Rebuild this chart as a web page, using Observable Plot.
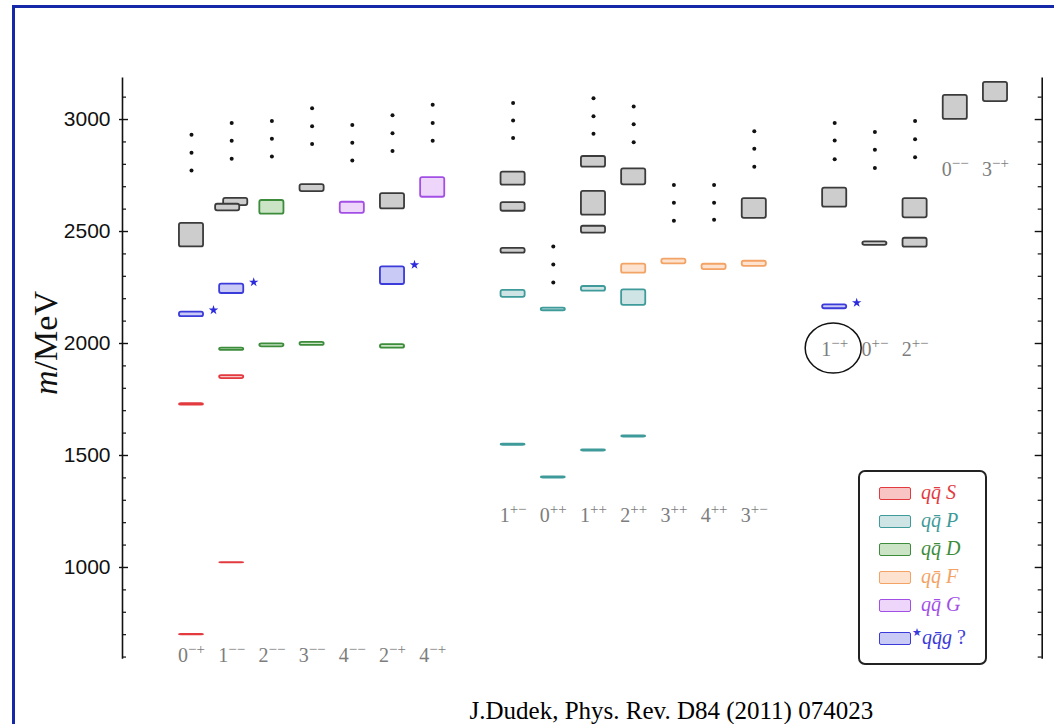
<!DOCTYPE html>
<html>
<head>
<meta charset="utf-8">
<script src="https://cdn.jsdelivr.net/npm/d3@7"></script>
<script src="https://cdn.jsdelivr.net/npm/@observablehq/plot@0.6"></script>
<style>
  html, body { margin: 0; padding: 0; background: #fff; }
  #page { position: relative; width: 1054px; height: 724px; overflow: hidden; }
  #frame { position: absolute; left: 12px; top: 5px; width: 1100px; height: 800px;
           border-left: 3.5px solid #1428a8; border-top: 3.5px solid #1428a8; pointer-events: none; }
  #chart { position: absolute; left: 0; top: 0; }
  .legend { position: absolute; left: 858px; top: 470px; width: 125px; height: 191px;
            border: 2px solid #222; border-radius: 7px; background: #fff; }
  .legend .sw { position: absolute; left: 19px; width: 30px; height: 11px; border-radius: 2px; border-width: 1.8px; border-style: solid; }
  .legend .lb { position: absolute; left: 61px; font: italic 20px "Liberation Serif", "Times New Roman", serif; line-height: 20px; white-space: nowrap; }
  .legend .lb .up { font-style: normal; }
  .legend .lb .st { font-size: 11px; position: relative; top: -8px; font-style: normal; }
</style>
</head>
<body>
<div id="page">
  <div id="chart"></div>
  <div id="legend" class="legend"></div>
  <div id="frame"></div>
</div>
<script>
// J^PC channels, in the order they are laid out along the horizontal axis
const channelsNatural = ["0-+", "1--", "2--", "3--", "4--", "2-+", "4-+"];
const channelsPositive = ["1+-", "0++", "1++", "2++", "3++", "4++", "3+-"];
const channelsExotic = ["1-+", "0+-", "2+-", "0--", "3-+"];

// States: [J^PC, mass (MeV), half-width of the uncertainty band (MeV)]
const qqS = [["0-+", 700, 0.8], ["0-+", 1728, 2.9], ["1--", 1021, 0.8], ["1--", 1850, 6.7]];
const qqP = [["1+-", 1548, 2.5], ["1+-", 2222, 15.6], ["0++", 1402, 2.5], ["0++", 2152, 5.8],
             ["1++", 1522, 2.5], ["1++", 2244, 10.5], ["2++", 1585, 2.5], ["2++", 2205, 34.4]];
const qqD = [["1--", 1974, 5.1], ["2--", 1992, 6.7], ["2--", 2608, 30.6], ["3--", 1998, 6.7], ["2-+", 1987, 7.6]];
const qqF = [["2++", 2334, 20], ["3++", 2366, 10.3], ["4++", 2342, 11.8], ["3+-", 2356, 11.2]];
const qqG = [["4--", 2606, 24.6], ["4-+", 2697, 44]];
const hybrids = [["0-+", 2130, 10.3], ["1--", 2244, 20.8], ["2-+", 2303, 39.5], ["1-+", 2164, 8.9]];
const unassigned = [["0-+", 2484, 52.7], ["1--", 2632, 16.3], ["1--", 2607, 14.7], ["3--", 2694, 15.6],
                    ["2-+", 2635, 34.2], ["1+-", 2736, 29], ["1+-", 2610, 19.4], ["1+-", 2414, 10.5],
                    ["1++", 2811, 23.9], ["1++", 2626, 52.9], ["1++", 2508, 15.6], ["2++", 2744, 35.7],
                    ["3+-", 2603, 44], ["1-+", 2651, 42.4], ["0+-", 2446, 7.6], ["2+-", 2604, 43],
                    ["2+-", 2450, 20], ["0--", 3054, 53.6], ["3-+", 3123, 43]];

// "..." continuation markers above each tower: [J^PC, [masses]]
const continuation = [
  ["0-+", [2932, 2852, 2772]], ["1--", [2984, 2905, 2825]], ["2--", [2994, 2914, 2835]],
  ["3--", [3050, 2970, 2891]], ["4--", [2976, 2896, 2817]], ["2-+", [3019, 2939, 2860]],
  ["4-+", [3066, 2985, 2905]], ["1+-", [3074, 2996, 2917]], ["0++", [2433, 2353, 2272]],
  ["1++", [3095, 3015, 2936]], ["2++", [3058, 2979, 2899]], ["3++", [2708, 2628, 2548]],
  ["4++", [2708, 2628, 2552]], ["3+-", [2948, 2869, 2789]], ["1-+", [2985, 2906, 2823]],
  ["0+-", [2944, 2865, 2784]], ["2+-", [2993, 2912, 2832]]
];

const yMajor = [1000, 1500, 2000, 2500, 3000];
const caption = "J.Dudek, Phys. Rev. D84 (2011) 074023";

// ---- styling ----
const palette = {
  S: {stroke: "#e23a3f", fill: "#f9c4c4"},
  P: {stroke: "#3f9a9a", fill: "#cfe5e5"},
  D: {stroke: "#3c8c3c", fill: "#cbe4c6"},
  F: {stroke: "#f2a365", fill: "#fde3cf"},
  G: {stroke: "#a24fe6", fill: "#eed6fb"},
  H: {stroke: "#3b3bd9", fill: "#cacaf7"},
  X: {stroke: "#3b3b3b", fill: "#cdcdcd"}
};

// column index per channel; one empty column separates the three groups
const column = new Map();
channelsNatural.forEach((c, i) => column.set(c, i));
channelsPositive.forEach((c, i) => column.set(c, 8 + i));
channelsExotic.forEach((c, i) => column.set(c, 16 + i));

const sets = [["X", unassigned], ["S", qqS], ["P", qqP], ["D", qqD], ["F", qqF], ["G", qqG], ["H", hybrids]];
const states = sets.flatMap(([cls, arr]) =>
  arr.map(([jpc, m, e]) => ({jpc, m, e, cls, col: column.get(jpc), shift: 0})));

// stagger boxes that overlap within the same channel
for (const group of d3.group(states, d => d.jpc).values()) {
  const sorted = group.slice().sort((a, b) => a.m - b.m);
  for (let i = 1; i < sorted.length; i++) {
    const lo = sorted[i - 1], hi = sorted[i];
    if (lo.m + lo.e > hi.m - hi.e) { lo.shift = -0.1; hi.shift = 0.1; }
  }
}

const dots = continuation.flatMap(([jpc, ms]) => ms.map(m => ({col: column.get(jpc), m})));
const hybridStates = states.filter(d => d.cls === "H");

// where each row of channel labels sits (MeV along the axis)
const labelLevel = jpc =>
  channelsNatural.includes(jpc) ? 577 :
  channelsPositive.includes(jpc) ? 1201 :
  (jpc === "0--" || jpc === "3-+") ? 2750 : 1946;
const labels = [...channelsNatural, ...channelsPositive, ...channelsExotic]
  .map(jpc => ({jpc, col: column.get(jpc), m: labelLevel(jpc)}));

const xDomain = [-1.7164, 21.162];
const yDomain = [590, 3185];
const px = 1 / 40.2; // one pixel in column units
const xL = xDomain[0], xR = xDomain[1];
const minor = d3.range(600, 3200, 100).filter(v => v % 500 !== 0);

const plot = Plot.plot({
  width: 1054,
  height: 724,
  marginLeft: 122,
  marginRight: 12.3,
  marginTop: 77.6,
  marginBottom: 65.2,
  x: {domain: xDomain, axis: null},
  y: {domain: yDomain, axis: null},
  color: {type: "identity"},
  style: {background: "transparent", overflow: "visible"},
  marks: [
    // left and right axis lines with inward ticks
    Plot.ruleX([xL, xR], {stroke: "#111", strokeWidth: 1.6}),
    Plot.ruleY(minor, {y: d => d, x1: () => xL, x2: () => xL + 4 * px, stroke: "#111", strokeWidth: 1.2}),
    Plot.ruleY(yMajor, {y: d => d, x1: () => xL - 3 * px, x2: () => xL + 6 * px, stroke: "#111", strokeWidth: 1.4}),
    Plot.ruleY(minor, {y: d => d, x1: () => xR - 4 * px, x2: () => xR, stroke: "#111", strokeWidth: 1.2}),
    Plot.ruleY(yMajor, {y: d => d, x1: () => xR - 7 * px, x2: () => xR + 1 * px, stroke: "#111", strokeWidth: 1.4}),
    Plot.axisY({ticks: yMajor, tickFormat: d => String(d), anchor: "left", tickSize: 0, tickPadding: 12, label: null,
                fontSize: 21, fontFamily: "Liberation Sans, Arial, sans-serif", fill: "#111"}),

    // mass boxes
    Plot.rect(states, {
      x1: d => d.col + d.shift - 0.3, x2: d => d.col + d.shift + 0.3,
      y1: d => d.m - d.e, y2: d => d.m + d.e,
      fill: d => palette[d.cls].fill, stroke: d => palette[d.cls].stroke,
      strokeWidth: 1.8, rx: 2
    }),
    // hybrid markers
    Plot.dot(hybridStates, {x: "col", y: d => d.m + d.e, symbol: "star", r: 3, fill: "#2b2bdc", dx: 22, dy: -2}),
    // continuation dots
    Plot.dot(dots, {x: "col", y: "m", r: 2, fill: "#111"}),
    // channel labels
    Plot.text(labels, {x: "col", y: "m", text: "jpc", textAnchor: "middle", lineAnchor: "bottom",
                       fontSize: 20, fontFamily: "Liberation Serif, serif", fill: "#7d7d7d"}),
    // reference line
    Plot.text([caption], {frameAnchor: "bottom-left", dx: 347, dy: 60, textAnchor: "start", lineAnchor: "bottom",
                          fontSize: 25, fontFamily: "Liberation Serif, Times New Roman, serif", fill: "#000"})
  ]
});

document.getElementById("chart").appendChild(plot);

// superscript parity labels: "1-+" -> 1 with raised −+
const NS = "http://www.w3.org/2000/svg";
plot.querySelectorAll("text").forEach(t => {
  const s = t.textContent;
  if (!/^\d[+-]{2}$/.test(s)) return;
  t.textContent = "";
  const a = document.createElementNS(NS, "tspan");
  a.textContent = s[0];
  const b = document.createElementNS(NS, "tspan");
  b.setAttribute("font-size", "15");
  b.setAttribute("dy", "-8");
  b.textContent = s.slice(1).replace(/-/g, "\u2212");
  t.appendChild(a); t.appendChild(b);
});

const sx = plot.scale("x"), sy = plot.scale("y");
const svg = d3.select(plot);

// axis title
const title = svg.append("text")
  .attr("transform", `translate(57,${sy.apply(2000)}) rotate(-90)`)
  .attr("text-anchor", "middle")
  .attr("font-family", "Liberation Serif, Times New Roman, serif")
  .attr("font-size", 34)
  .attr("fill", "#111");
title.append("tspan").attr("font-style", "italic").text("m");
title.append("tspan").text("/MeV");

// highlight the exotic 1-+ channel
svg.append("ellipse")
  .attr("cx", sx.apply(column.get("1-+")) - 1)
  .attr("cy", sy.apply(labelLevel("1-+")) - 7)
  .attr("rx", 28).attr("ry", 25)
  .attr("fill", "none").attr("stroke", "#111").attr("stroke-width", 1.5);

// legend
const legendItems = [
  {cls: "S", html: "q<span>q&#772;</span> S", cy: 22},
  {cls: "P", html: "q<span>q&#772;</span> P", cy: 50},
  {cls: "D", html: "q<span>q&#772;</span> D", cy: 78},
  {cls: "F", html: "q<span>q&#772;</span> F", cy: 106},
  {cls: "G", html: "q<span>q&#772;</span> G", cy: 134},
  {cls: "H", html: "<span class='st'>&#9733;</span>qq&#772;g <span class='up'>?</span>", cy: 167}
];
const legend = document.getElementById("legend");
for (const it of legendItems) {
  const sw = document.createElement("div");
  sw.className = "sw";
  sw.style.top = (it.cy - 7) + "px";
  sw.style.background = palette[it.cls].fill;
  sw.style.borderColor = palette[it.cls].stroke;
  legend.appendChild(sw);
  const lb = document.createElement("div");
  lb.className = "lb";
  lb.style.top = (it.cy - 12) + "px";
  lb.style.left = it.cls === "H" ? "52px" : "61px";
  lb.style.color = palette[it.cls].stroke;
  lb.innerHTML = it.html;
  legend.appendChild(lb);
}
</script>
</body>
</html>
